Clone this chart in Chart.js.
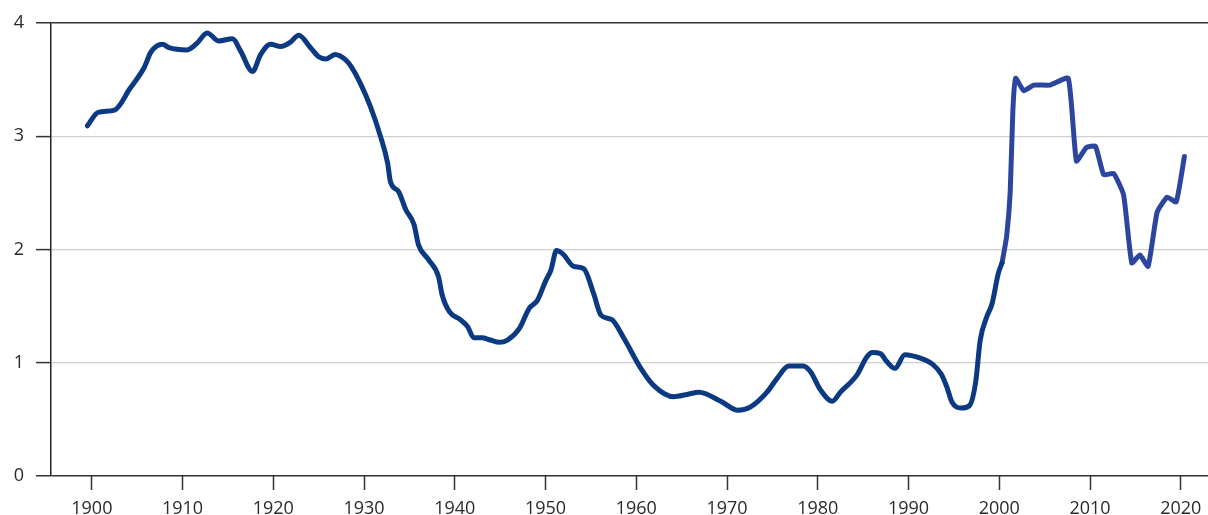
<!DOCTYPE html>
<html>
<head>
<meta charset="utf-8">
<script src="https://cdn.jsdelivr.net/npm/chart.js@4/dist/chart.umd.min.js"></script>
<style>
html,body{margin:0;padding:0;background:#fff;}
#wrap{width:1208px;height:515px;position:relative;}
</style>
</head>
<body>
<div id="wrap"><canvas id="c" width="1208" height="515"></canvas></div>
<script>
// Series 1 (to 2000)
const yearsA = [1899.5,1900.7,1902.5,1904.2,1905.8,1906.5,1907.8,1908.5,1910.5,1911.6,1912.7,1914.0,1915.5,1916.4,1917.7,1918.6,1919.7,1920.8,1921.9,1922.8,1924.1,1925.0,1925.8,1926.8,1928.0,1928.6,1929.5,1930.7,1931.8,1932.6,1932.9,1933.8,1934.6,1935.5,1936.0,1937.1,1938.2,1938.6,1939.4,1940.6,1941.4,1942.1,1943.0,1943.9,1944.9,1945.8,1947.1,1948.2,1949.1,1950.0,1950.6,1951.2,1951.9,1953.1,1954.2,1955.3,1956.1,1957.3,1958.6,1960.5,1961.9,1964.1,1965.6,1966.9,1969.3,1971.2,1972.6,1974.4,1975.5,1976.8,1978.4,1979.2,1980.3,1981.6,1982.5,1984.3,1985.4,1986.0,1986.9,1987.6,1988.5,1989.6,1991.3,1992.6,1993.6,1994.2,1994.8,1995.8,1996.7,1997.4,1997.9,1998.6,1999.2,1999.9,2000.3];
const valuesA = [3.09,3.21,3.23,3.42,3.61,3.74,3.81,3.78,3.76,3.82,3.91,3.84,3.86,3.75,3.57,3.72,3.81,3.79,3.83,3.89,3.78,3.70,3.68,3.72,3.67,3.61,3.48,3.26,3.00,2.76,2.60,2.51,2.35,2.22,2.04,1.91,1.76,1.60,1.45,1.38,1.32,1.22,1.22,1.20,1.18,1.20,1.30,1.48,1.55,1.72,1.82,1.99,1.96,1.85,1.83,1.61,1.42,1.38,1.22,0.95,0.80,0.70,0.72,0.74,0.66,0.58,0.61,0.74,0.86,0.97,0.97,0.92,0.76,0.66,0.74,0.89,1.05,1.09,1.08,1.01,0.95,1.07,1.04,0.99,0.90,0.79,0.65,0.60,0.62,0.83,1.20,1.40,1.52,1.79,1.88];
// Series 2 (from 2000)
const yearsB = [2000.3,2000.8,2001.2,2001.5,2001.8,2002.7,2003.8,2005.6,2007.6,2008.5,2009.6,2010.6,2011.5,2012.6,2013.7,2014.6,2015.5,2016.4,2017.4,2018.5,2019.5,2020.4];
const valuesB = [1.88,2.11,2.50,3.23,3.51,3.40,3.45,3.45,3.51,2.78,2.90,2.91,2.66,2.67,2.48,1.88,1.95,1.85,2.33,2.46,2.42,2.82];
const xTickLabels = [1900,1910,1920,1930,1940,1950,1960,1970,1980,1990,2000,2010,2020];
const yTickLabels = [0,1,2,3,4];

const FONT = "'Open Sans', 'Noto Sans', sans-serif";
const toPts = (xs, ys) => xs.map((x, i) => ({x: x, y: ys[i]}));

new Chart(document.getElementById('c'), {
  type: 'line',
  data: {
    datasets: [
      {data: toPts(yearsA, valuesA), borderColor: '#0b3a82', borderWidth: 5, pointRadius: 0, cubicInterpolationMode: 'monotone', borderCapStyle: 'round', borderJoinStyle: 'round', fill: false},
      {data: toPts(yearsB, valuesB), borderColor: '#2c46a0', borderWidth: 5, pointRadius: 0, tension: 0.15, borderCapStyle: 'round', borderJoinStyle: 'round', fill: false}
    ]
  },
  options: {
    responsive: false,
    animation: false,
    devicePixelRatio: 1,
    layout: {padding: {top: 14, right: 0, left: 0, bottom: 0}},
    plugins: {legend: {display: false}, tooltip: {enabled: false}},
    scales: {
      x: {
        type: 'linear', min: 1895.5, max: 2023,
        afterBuildTicks: s => { s.ticks = xTickLabels.map(v => ({value: v})); },
        afterFit: s => { s.height = 39; s.paddingRight = 0; s.paddingLeft = 0; },
        grid: {drawOnChartArea: false, drawTicks: true, tickLength: 14, tickColor: '#333', tickWidth: 1.5},
        border: {display: false},
        ticks: {font: {family: FONT, size: 18}, color: '#2a2a2a', padding: 8, maxRotation: 0, autoSkip: false, callback: v => String(v)}
      },
      y: {
        min: 0, max: 4,
        afterBuildTicks: s => { s.ticks = yTickLabels.map(v => ({value: v})); },
        afterFit: s => { s.width = 51; },
        grid: {
          color: c => (c.tick && (c.tick.value === 0 || c.tick.value === 4)) ? '#333' : '#cfcfcf',
          lineWidth: c => (c.tick && (c.tick.value === 0 || c.tick.value === 4)) ? 1.5 : 1.2,
          tickLength: 15, tickColor: '#333', tickWidth: 1.5
        },
        border: {display: true, color: '#222', width: 1.5},
        ticks: {font: {family: FONT, size: 18}, color: '#2a2a2a', padding: 12, callback: v => String(v)}
      }
    }
  }
});
</script>
</body>
</html>
